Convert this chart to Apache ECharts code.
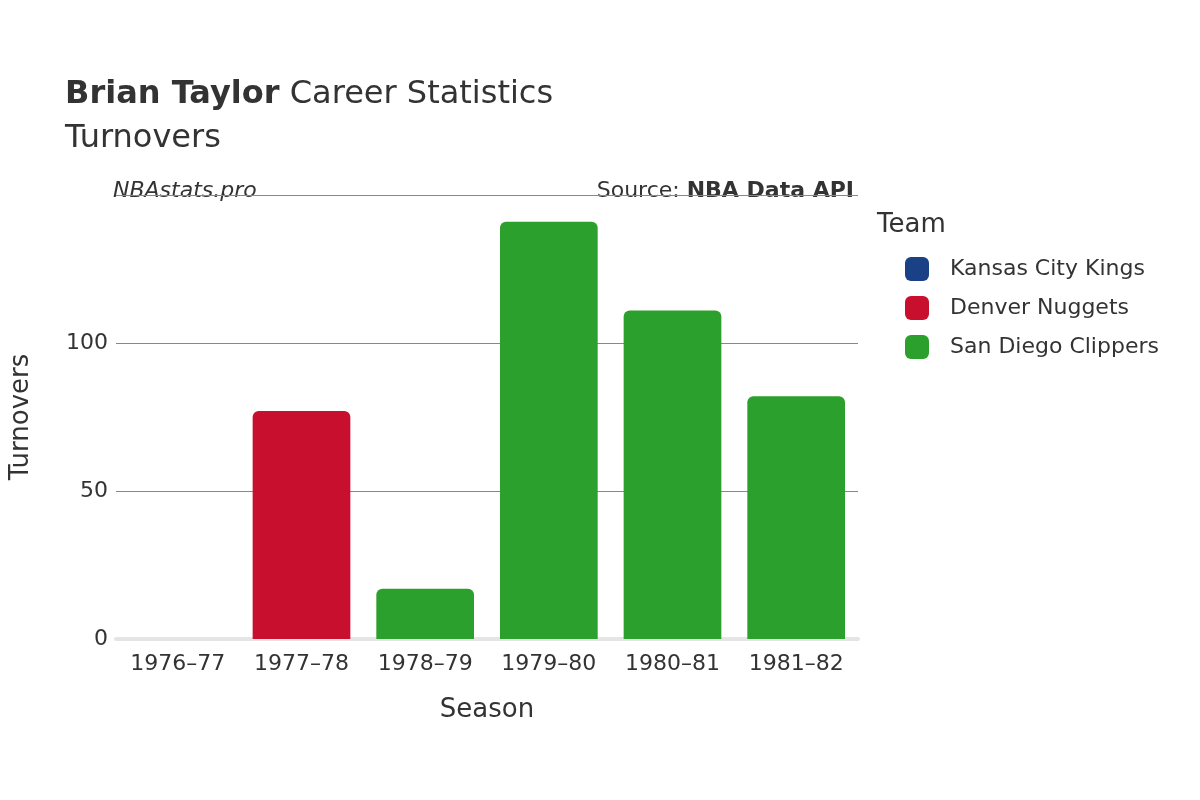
<!DOCTYPE html>
<html><head><meta charset="utf-8">
<script src="https://cdn.jsdelivr.net/npm/echarts@6/dist/echarts.min.js"></script>
<style>html,body{margin:0;padding:0;background:#fff}#c{width:1200px;height:800px}</style>
</head><body><div id="c"></div>
<script>
const seasons = ["1976–77","1977–78","1978–79","1979–80","1980–81","1981–82"];
const teams = ["Kansas City Kings","Denver Nuggets","San Diego Clippers"];
const colors = ["#1a4185","#c8102e","#2ca02c"];
const kck = [0, null, null, null, null, null];
const den = [null, 77, null, null, null, null];
const sdc = [null, null, 17, 141, 111, 82];
const yTicks = [0, 50, 100];
const F = "'DejaVu Sans', sans-serif";
const chart = echarts.init(document.getElementById('c'));
chart.setOption({
  animation:false,
  textStyle:{fontFamily:F},
  title:{left:60,top:68,text:"{b|Brian Taylor} Career Statistics\nTurnovers",
    textStyle:{fontFamily:F,fontSize:32,color:"#333",fontWeight:"normal",lineHeight:44,
      rich:{b:{fontFamily:F,fontSize:32,fontWeight:"bold",color:"#333"}}}},
  graphic:[
    {type:"text",left:113,top:180,style:{text:"NBAstats.pro",font:"italic 22px "+F,fill:"#333"}},
    {type:"text",right:346,top:180,style:{text:"{a|Source: }{b|NBA Data API}",rich:{a:{font:"22px "+F,fill:"#333"},b:{font:"bold 22px "+F,fill:"#333"}}}},
    {type:"text",left:877,top:212,style:{text:"Team",font:"26px "+F,fill:"#333"}}
  ],
  legend:{orient:"vertical",left:900,top:252,itemGap:15,itemWidth:24,itemHeight:24,icon:"roundRect",
    textStyle:{fontFamily:F,fontSize:22,color:"#333",padding:[0,0,0,16]},data:teams},
  grid:{left:108,right:342,top:195,bottom:161},
  xAxis:{type:"category",data:seasons,axisTick:{show:false},
    axisLine:{lineStyle:{color:"#e5e5e5",width:4}},
    axisLabel:{fontFamily:F,fontSize:22,color:"#333",margin:14},
    name:"Season",nameLocation:"middle",nameGap:58,nameTextStyle:{fontFamily:F,fontSize:26,color:"#333"}},
  yAxis:{type:"value",min:0,max:150,interval:50,
    axisLabel:{fontFamily:F,fontSize:22,color:"#333",margin:8,formatter:v=>yTicks.includes(v)?v:""},
    splitLine:{lineStyle:{color:"#888",width:1}},
    name:"Turnovers",nameLocation:"middle",nameGap:82,nameTextStyle:{fontFamily:F,fontSize:26,color:"#333"}},
  series:[kck,den,sdc].map((d,i)=>({name:teams[i],type:"bar",stack:"t",data:d,
    itemStyle:{color:colors[i],borderRadius:[6,6,0,0]},barCategoryGap:"21%"}))
});
</script></body></html>
